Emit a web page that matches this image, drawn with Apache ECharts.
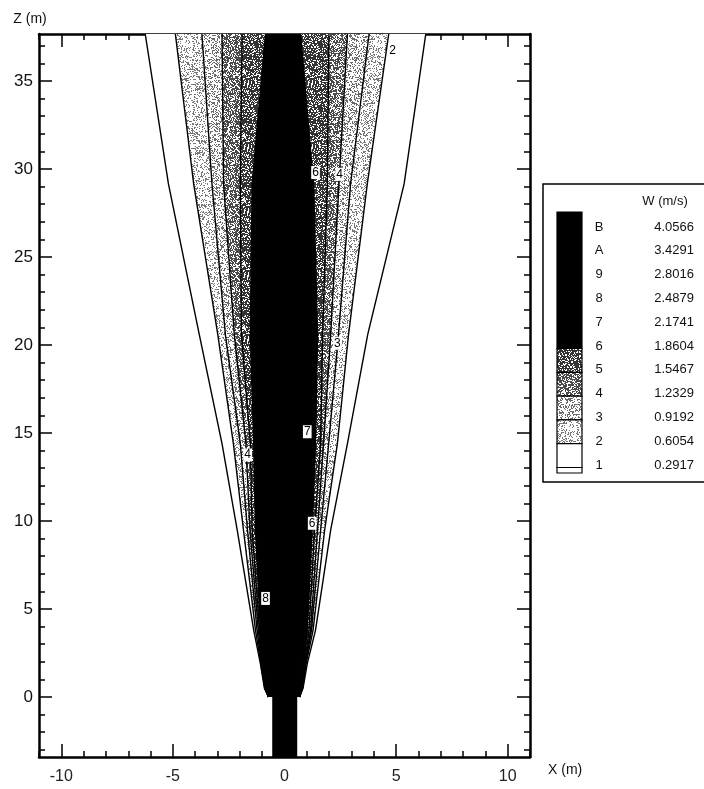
<!DOCTYPE html>
<html>
<head>
<meta charset="utf-8">
<script src="https://cdn.jsdelivr.net/npm/echarts@6/dist/echarts.min.js"></script>
<style>
  html, body { margin: 0; padding: 0; background: #fff; }
  #chart { width: 704px; height: 789px; }
</style>
</head>
<body>
<div id="chart"></div>
<script>
var zStations = [0, 0.5, 1.9, 3.8, 9.5, 14.4, 20.6, 29.15, 37.67];

// x (m) of each contour line, left / right flank of the jet
var leftL1  = [-0.72, -0.90, -1.08, -1.38, -2.12, -2.80, -3.82, -5.20, -6.24];
var rightL1 = [0.67, 0.83, 1.02, 1.39, 2.07, 2.82, 3.73, 5.36, 6.33];
var leftL2  = [-0.72, -0.88, -1.06, -1.30, -1.84, -2.29, -2.99, -4.07, -4.89];
var rightL2 = [0.67, 0.81, 0.97, 1.28, 1.80, 2.37, 2.87, 3.71, 4.67];
var leftL3  = [-0.72, -0.86, -1.03, -1.23, -1.66, -1.98, -2.65, -3.25, -3.70];
var rightL3 = [0.67, 0.80, 0.94, 1.21, 1.62, 1.98, 2.42, 2.96, 3.79];
var leftL4  = [-0.72, -0.84, -1.02, -1.17, -1.55, -1.73, -2.25, -2.73, -2.80];
var rightL4 = [0.67, 0.79, 0.92, 1.17, 1.48, 1.75, 2.07, 2.44, 2.82];
var leftL5  = [-0.72, -0.83, -1.01, -1.12, -1.45, -1.53, -1.93, -1.98, -1.90];
var rightL5 = [0.67, 0.78, 0.90, 1.10, 1.35, 1.62, 1.71, 1.92, 1.99];
var leftL6  = [-0.72, -0.81, -1.00, -1.08, -1.30, -1.38, -1.53, -1.45, -0.85];
var rightL6 = [0.67, 0.76, 0.87, 1.02, 1.24, 1.39, 1.48, 1.30, 0.72];

// nozzle below z = 0
var nozzleX = [-0.55, 0.57];
var nozzleZ = [-3.41, 0];

// contour labels sitting on the lines
var tagX = [1.39, 2.47, 2.37, 1.02, -1.65, 1.24, -0.85, 4.84];
var tagZ = [29.8, 29.7, 20.1, 15.07, 13.75, 9.87, 5.6, 36.7];
var tagText = ['6', '4', '3', '7', '4', '6', '8', '2'];

// legend
var levelNames = ['B', 'A', '9', '8', '7', '6', '5', '4', '3', '2', '1'];
var levelValues = ['4.0566', '3.4291', '2.8016', '2.4879', '2.1741', '1.8604',
                   '1.5467', '1.2329', '0.9192', '0.6054', '0.2917'];

// axis ticks
var xMajor = [-10, -5, 0, 5, 10];
var xMinor = [];
for (var i = -11; i <= 11; i++) xMinor.push(i);
var zMajor = [0, 5, 10, 15, 20, 25, 30, 35];
var zMinor = [];
for (var j = -3; j <= 37; j++) zMinor.push(j);

var leftLines = [leftL1, leftL2, leftL3, leftL4, leftL5, leftL6];
var rightLines = [rightL1, rightL2, rightL3, rightL4, rightL5, rightL6];

function stipple(density, dot) {
  var c = document.createElement('canvas');
  c.width = 64; c.height = 64;
  var ctx = c.getContext('2d');
  ctx.fillStyle = '#fff';
  ctx.fillRect(0, 0, 64, 64);
  ctx.fillStyle = dot;
  for (var y = 0; y < 64; y++) {
    for (var x = 0; x < 64; x++) {
      var h = Math.sin(x * 12.9898 + y * 78.233) * 43758.5453;
      if (h - Math.floor(h) < density) ctx.fillRect(x, y, 1, 1);
    }
  }
  return { image: c, repeat: 'repeat' };
}

var light1 = stipple(0.30, '#777');
var light2 = stipple(0.36, '#6a6a6a');
var dark1 = stipple(0.62, '#4a4a4a');
var dark2 = stipple(0.72, '#333');
// fill of the region above each level 1..6
var bandFill = ['#fff', light1, light2, dark1, dark2, '#000'];

var chart = echarts.init(document.getElementById('chart'));

var font = 'Liberation Sans, Arial, sans-serif';

function xAxis(pos, ticks, len, labels, line) {
  return {
    type: 'value', position: pos, min: -11, max: 11,
    axisLine: { show: line, onZero: false, lineStyle: { color: '#000', width: 2.5 } },
    axisTick: { show: true, inside: true, length: len, customValues: ticks,
      lineStyle: { color: '#000', width: 1.5 } },
    axisLabel: labels ? { show: true, customValues: xMajor, margin: 12,
      fontSize: 16, fontFamily: font, color: '#222' } : { show: false },
    splitLine: { show: false }
  };
}
function yAxis(pos, ticks, len, labels, line) {
  return {
    type: 'value', position: pos, min: -3.41, max: 37.67,
    axisLine: { show: line, onZero: false, lineStyle: { color: '#000', width: 2.5 } },
    axisTick: { show: true, inside: true, length: len, customValues: ticks,
      lineStyle: { color: '#000', width: 1.5 } },
    axisLabel: labels ? { show: true, customValues: zMajor, margin: 6,
      fontSize: 17, fontFamily: font, color: '#111' } : { show: false },
    splitLine: { show: false }
  };
}

var xAxes = [
  xAxis('bottom', xMajor, 13, true, true),
  xAxis('bottom', xMinor, 6, false, false),
  xAxis('top', xMajor, 13, false, true),
  xAxis('top', xMinor, 6, false, false)
];
xAxes[0].name = 'X (m)';
xAxes[0].nameLocation = 'end';
xAxes[0].nameGap = 18;
xAxes[0].nameTextStyle = { fontSize: 14, fontFamily: font, color: '#111',
  align: 'left', verticalAlign: 'top', padding: [6, 0, 0, 0] };

var yAxes = [
  yAxis('left', zMajor, 13, true, true),
  yAxis('left', zMinor, 6, false, false),
  yAxis('right', zMajor, 13, false, true),
  yAxis('right', zMinor, 6, false, false)
];
yAxes[0].name = 'Z (m)';
yAxes[0].nameLocation = 'end';
yAxes[0].nameGap = 8;
yAxes[0].nameTextStyle = { fontSize: 14, fontFamily: font, color: '#111',
  align: 'center', padding: [0, 18, 0, 0] };

// legend drawn as graphics from the level arrays
var legendTop = 184, rowStep = 23.8, firstRow = 227;
var legendEls = [
  { type: 'rect', shape: { x: 543, y: legendTop, width: 175, height: 298 },
    style: { fill: '#fff', stroke: '#000', lineWidth: 1.5 } },
  { type: 'text', x: 665, y: 201, style: { text: 'W (m/s)', font: '13px ' + font,
    fill: '#111', align: 'center', verticalAlign: 'middle' } }
];
var segFill = ['#000', dark2, dark1, light2, light1, '#fff', '#fff'];
var segTop = 212;
for (var s = 0; s < segFill.length; s++) {
  var y0 = s === 0 ? segTop : firstRow + rowStep * (4 + s) + 2.5;
  var y1 = s === segFill.length - 1 ? 473 : firstRow + rowStep * (5 + s) + 2.5;
  legendEls.push({ type: 'rect', shape: { x: 557, y: y0, width: 25, height: y1 - y0 },
    style: { fill: segFill[s], stroke: '#000', lineWidth: 1.2 } });
}
for (var r = 0; r < levelNames.length; r++) {
  var ly = firstRow + rowStep * r;
  legendEls.push({ type: 'text', x: 599, y: ly, style: { text: levelNames[r],
    font: '13px ' + font, fill: '#111', align: 'center', verticalAlign: 'middle' } });
  legendEls.push({ type: 'text', x: 694, y: ly, style: { text: levelValues[r],
    font: '13px ' + font, fill: '#111', align: 'right', verticalAlign: 'middle' } });
}

function renderBand(params, api) {
  var k = api.value(0);
  var L = leftLines[k], R = rightLines[k];
  var lp = [], rp = [];
  for (var n = 0; n < zStations.length; n++) {
    lp.push(api.coord([L[n], zStations[n]]));
    rp.push(api.coord([R[n], zStations[n]]));
  }
  var poly = lp.concat(rp.slice().reverse());
  return {
    type: 'group',
    children: [
      { type: 'polygon', shape: { points: poly }, style: { fill: bandFill[k] } },
      { type: 'polyline', shape: { points: lp }, style: { stroke: '#000', lineWidth: 1.4, fill: null } },
      { type: 'polyline', shape: { points: rp }, style: { stroke: '#000', lineWidth: 1.4, fill: null } }
    ]
  };
}

function renderNozzle(params, api) {
  var a = api.coord([nozzleX[0], nozzleZ[1]]);
  var b = api.coord([nozzleX[1], nozzleZ[0]]);
  return { type: 'rect', shape: { x: a[0], y: a[1] - 1, width: b[0] - a[0], height: b[1] - a[1] + 1 },
    style: { fill: '#000' } };
}

var tagData = tagX.map(function (x, n) { return [x, tagZ[n], tagText[n]]; });

chart.setOption({
  animation: false,
  backgroundColor: '#fff',
  grid: { left: 39, right: 174, top: 34, bottom: 32 },
  xAxis: xAxes,
  yAxis: yAxes,
  graphic: legendEls,
  series: [
    {
      type: 'custom', xAxisIndex: 0, yAxisIndex: 0, clip: true,
      renderItem: renderBand,
      data: [[0], [1], [2], [3], [4], [5]], z: 1
    },
    {
      type: 'custom', xAxisIndex: 0, yAxisIndex: 0, clip: true,
      renderItem: renderNozzle, data: [[0]], z: 2
    },
    {
      type: 'scatter', xAxisIndex: 0, yAxisIndex: 0, z: 3,
      symbol: 'rect', symbolSize: 1, itemStyle: { color: 'rgba(0,0,0,0)', opacity: 1 },
      data: tagData,
      label: { show: true, position: 'inside', opacity: 1, formatter: function (p) { return p.data[2]; },
        backgroundColor: '#fff', padding: [1, 1, 0, 1], fontSize: 12, fontFamily: font,
        color: '#000', textBorderWidth: 0, lineHeight: 12 }
    }
  ]
});
</script>
</body>
</html>
